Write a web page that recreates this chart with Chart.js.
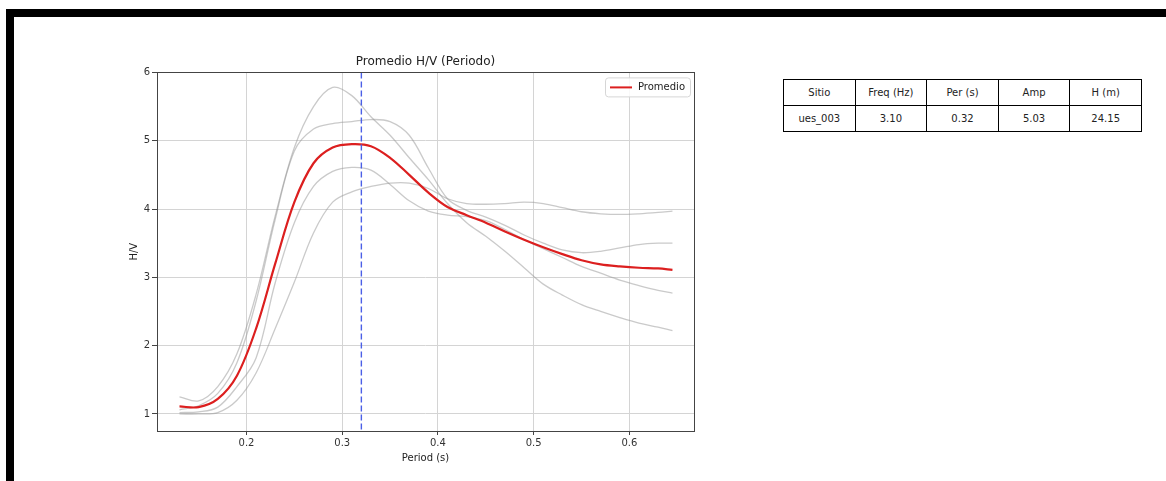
<!DOCTYPE html>
<html>
<head>
<meta charset="utf-8">
<title>Promedio H/V</title>
<script src="https://cdn.jsdelivr.net/npm/chart.js@4.4.0/dist/chart.umd.min.js"></script>
<style>
  body {
    margin: 0;
    width: 1166px;
    height: 481px;
    overflow: hidden;
    position: relative;
    background: #fff;
    font-family: 'DejaVu Sans', sans-serif;
  }
  .frame-top { position: absolute; left: 6px; top: 9px; width: 1160px; height: 8px; background: #000; }
  .frame-left { position: absolute; left: 6px; top: 9px; width: 8px; height: 472px; background: #000; }
  #chartBox { position: absolute; left: 20px; top: 30px; width: 690px; height: 442px; }
  #summary {
    position: absolute;
    left: 783px;
    top: 79px;
    width: 359px;
    border-collapse: collapse;
    table-layout: fixed;
    font-size: 10px;
    color: #222;
  }
  #summary td { border: 1px solid #000; height: 25px; padding: 0; text-align: center; }
</style>
</head>
<body>
<div class="frame-top"></div>
<div class="frame-left"></div>
<div id="chartBox"><canvas id="hvChart"></canvas></div>
<table id="summary"></table>

<script>
// Period axis (s) shared by every curve
const periods = [0.13, 0.15, 0.17, 0.19, 0.21, 0.23, 0.25, 0.27, 0.29, 0.31, 0.33, 0.35, 0.37, 0.39,
                 0.41, 0.43, 0.45, 0.47, 0.49, 0.51, 0.53, 0.55, 0.57, 0.59, 0.61, 0.63, 0.645];

// Average H/V
const promedio = [1.11, 1.10, 1.22, 1.56, 2.25, 3.20, 4.10, 4.67, 4.90, 4.95, 4.92, 4.75, 4.50, 4.24,
                  4.03, 3.91, 3.80, 3.67, 3.55, 3.44, 3.34, 3.25, 3.19, 3.16, 3.14, 3.13, 3.11];

// Individual H/V windows
const curveA = [1.25, 1.19, 1.40, 1.88, 2.75, 3.90, 4.90, 5.50, 5.78, 5.66, 5.35, 5.08, 4.75, 4.43,
                4.08, 3.80, 3.60, 3.38, 3.14, 2.90, 2.74, 2.60, 2.50, 2.41, 2.33, 2.27, 2.22];
const curveB = [1.06, 1.12, 1.30, 1.75, 2.65, 3.85, 4.85, 5.17, 5.25, 5.28, 5.31, 5.28, 5.08, 4.60,
                4.15, 3.98, 3.88, 3.76, 3.62, 3.50, 3.40, 3.36, 3.38, 3.43, 3.48, 3.50, 3.50];
const curveC = [1.02, 1.03, 1.10, 1.40, 1.82, 2.92, 3.80, 4.33, 4.55, 4.61, 4.57, 4.36, 4.12, 3.97,
                3.91, 3.89, 3.83, 3.70, 3.55, 3.42, 3.29, 3.16, 3.06, 2.96, 2.88, 2.81, 2.77];
const curveD = [1.00, 1.00, 1.02, 1.20, 1.60, 2.25, 2.93, 3.65, 4.10, 4.25, 4.33, 4.38, 4.38, 4.30,
                4.15, 4.08, 4.07, 4.08, 4.10, 4.08, 4.02, 3.96, 3.93, 3.92, 3.93, 3.95, 3.97];
const windows = [curveA, curveB, curveC, curveD];

const xTicks = [0.2, 0.3, 0.4, 0.5, 0.6];
const yTicks = [1, 2, 3, 4, 5, 6];

// Summary table
const tableHeader = ['Sitio', 'Freq (Hz)', 'Per (s)', 'Amp', 'H (m)'];
const tableRow = ['ues_003', '3.10', '0.32', '5.03', '24.15'];
const peakPeriod = parseFloat(tableRow[2]);

function buildTable() {
    const table = document.getElementById('summary');
    [tableHeader, tableRow].forEach(cells => {
        const tr = document.createElement('tr');
        cells.forEach(text => {
            const td = document.createElement('td');
            td.textContent = text;
            tr.appendChild(td);
        });
        table.appendChild(tr);
    });
}

function toPoints(values) {
    return periods.map((p, i) => ({ x: p, y: values[i] }));
}

// Dashed marker at the peak period, axes frame and the legend box
const overlayPlugin = {
    id: 'overlay',
    afterDatasetsDraw(chart) {
        const { ctx, chartArea, scales } = chart;
        const x = scales.x.getPixelForValue(peakPeriod);
        ctx.save();
        ctx.strokeStyle = '#4b5fe6';
        ctx.lineWidth = 1.4;
        ctx.setLineDash([6, 3]);
        ctx.beginPath();
        ctx.moveTo(x, chartArea.top);
        ctx.lineTo(x, chartArea.bottom);
        ctx.stroke();
        ctx.setLineDash([]);
        ctx.strokeStyle = '#444';
        ctx.lineWidth = 1;
        ctx.strokeRect(Math.round(chartArea.left) + 0.5, Math.round(chartArea.top) + 0.5,
                       Math.round(chartArea.right - chartArea.left), Math.round(chartArea.bottom - chartArea.top));
        ctx.restore();
    },
    afterDraw(chart) {
        const { ctx, chartArea } = chart;
        const ds = chart.data.datasets[0];
        const w = 85, h = 19;
        const bx = chartArea.right - 4 - w;
        const by = chartArea.top + 5;
        ctx.save();
        ctx.fillStyle = 'rgba(255,255,255,0.85)';
        ctx.strokeStyle = '#d6d6d6';
        ctx.lineWidth = 1;
        ctx.beginPath();
        ctx.roundRect(bx + 0.5, by + 0.5, w, h, 3);
        ctx.fill();
        ctx.stroke();
        ctx.strokeStyle = ds.borderColor;
        ctx.lineWidth = 2;
        ctx.beginPath();
        ctx.moveTo(bx + 5, by + h / 2 + 0.5);
        ctx.lineTo(bx + 27, by + h / 2 + 0.5);
        ctx.stroke();
        ctx.fillStyle = '#222';
        ctx.font = '10px "DejaVu Sans"';
        ctx.textBaseline = 'middle';
        ctx.fillText(ds.label, bx + 33, by + h / 2 + 1);
        ctx.restore();
    }
};

function createHVChart() {
    const ctx = document.getElementById('hvChart');

    const datasets = [{
        label: 'Promedio',
        data: toPoints(promedio),
        borderColor: '#dc1f1f',
        borderWidth: 2.2,
        order: 0
    }];
    windows.forEach((values, i) => {
        datasets.push({
            label: 'ventana ' + (i + 1),
            data: toPoints(values),
            borderColor: 'rgba(150,150,150,0.5)',
            borderWidth: 1.3,
            order: 1
        });
    });

    const tickFont = { family: 'DejaVu Sans', size: 10 };

    new Chart(ctx, {
        type: 'line',
        data: { datasets: datasets },
        options: {
            responsive: true,
            maintainAspectRatio: false,
            animation: false,
            elements: {
                point: { radius: 0 },
                line: { tension: 0.35, fill: false }
            },
            layout: { padding: { left: 100, right: 16, top: 25, bottom: 0 } },
            plugins: {
                legend: { display: false },
                tooltip: { enabled: false },
                title: {
                    display: true,
                    text: 'Promedio H/V (Periodo)',
                    fullSize: false,
                    color: '#222',
                    font: { family: 'DejaVu Sans', size: 12, weight: 'normal' },
                    padding: { top: 0, bottom: 3 }
                }
            },
            scales: {
                x: {
                    type: 'linear',
                    min: 0.1065,
                    max: 0.6675,
                    afterFit: scale => { scale.height = 41; },
                    afterBuildTicks: scale => { scale.ticks = xTicks.map(v => ({ value: v })); },
                    border: { display: false },
                    grid: { color: '#d4d4d4', tickColor: '#444', tickLength: 4 },
                    ticks: { color: '#333', font: tickFont, padding: 2, maxRotation: 0,
                             callback: v => v.toFixed(1) },
                    title: { display: true, text: 'Period (s)', color: '#222', font: tickFont,
                             padding: { top: 0, bottom: 8 } }
                },
                y: {
                    min: 0.75,
                    max: 6.0,
                    afterFit: scale => { scale.width = 37; },
                    afterBuildTicks: scale => { scale.ticks = yTicks.map(v => ({ value: v })); },
                    border: { display: false },
                    grid: { color: '#d4d4d4', tickColor: '#444', tickLength: 5 },
                    ticks: { color: '#333', font: tickFont, padding: 2 },
                    title: { display: true, text: 'H/V', color: '#222', font: tickFont,
                             padding: { top: 8, bottom: 0 } }
                }
            }
        },
        plugins: [overlayPlugin]
    });
}

buildTable();
createHVChart();
</script>
</body>
</html>
